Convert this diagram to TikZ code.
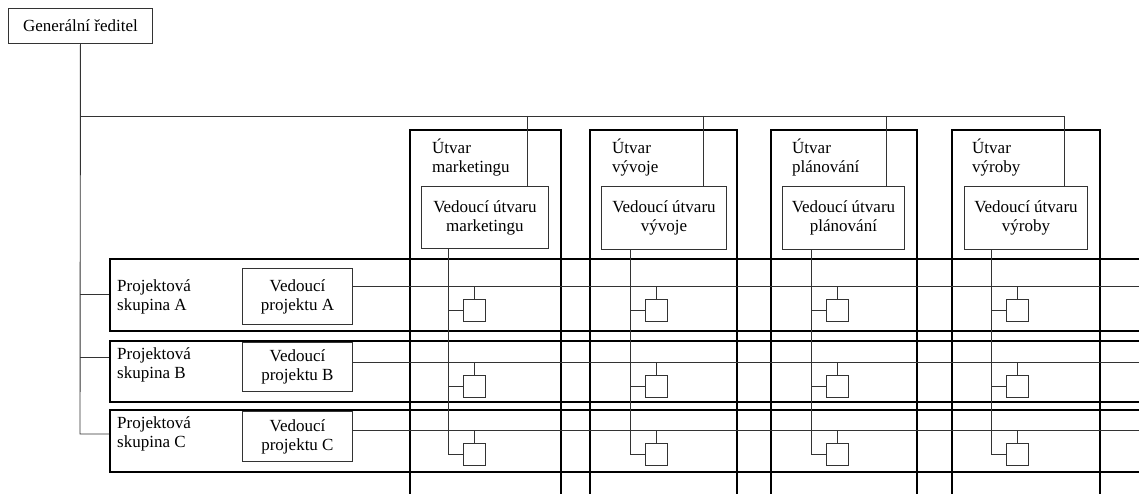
\documentclass[tikz,border=0pt]{standalone}
\usepackage{fontspec}
\setmainfont{Liberation Serif}
\begin{document}
\begin{tikzpicture}[x=1pt,y=-1pt,
  lnthin/.style={line width=0.9pt, draw=black!80},
  lnthick/.style={line width=2pt, draw=black},
  txt/.style={font=\fontsize{17}{19}\selectfont},
  box/.style={lnthin, rectangle, inner sep=0pt, txt, align=center, anchor=north west},
  bigbox/.style={lnthick, rectangle, inner sep=0pt, anchor=north west},
  label/.style={inner sep=0pt, txt, align=left, anchor=north west},
  sq/.style={lnthin, rectangle, inner sep=0pt, minimum width=22, minimum height=22}]
\useasboundingbox (0,0) rectangle (1139,494);
\clip (0,0) rectangle (1139,494);

% general director
\node[box, minimum width=144, minimum height=35] (gr) at (8,8) {Generální ředitel};

% department columns (thick, open at bottom)
\node[bigbox, minimum width=151, minimum height=420] (c1) at (409,129) {};
\node[bigbox, minimum width=147, minimum height=420] (c2) at (589,129) {};
\node[bigbox, minimum width=146, minimum height=420] (c3) at (770,129) {};
\node[bigbox, minimum width=148, minimum height=420] (c4) at (951,129) {};

% project rows (thick, open at right)
\node[bigbox, minimum width=1100, minimum height=72] (r1) at (109,258) {};
\node[bigbox, minimum width=1100, minimum height=61] (r2) at (109,340) {};
\node[bigbox, minimum width=1100, minimum height=62] (r3) at (109,409) {};

% column labels
\node[label] (l1) at (432,139) {Útvar\\marketingu};
\node[label] (l2) at (612,139) {Útvar\\vývoje};
\node[label] (l3) at (792,139) {Útvar\\plánování};
\node[label] (l4) at (972,139) {Útvar\\výroby};

% row labels
\node[label] (p1) at (117,279) {Projektová\\skupina A};
\node[label] (p2) at (117,347) {Projektová\\skupina B};
\node[label] (p3) at (117,416) {Projektová\\skupina C};

% department leaders
\node[box, minimum width=127, minimum height=62] (v1) at (421,186) {Vedoucí útvaru\\marketingu};
\node[box, minimum width=125, minimum height=63] (v2) at (601,186) {Vedoucí útvaru\\vývoje};
\node[box, minimum width=122, minimum height=63] (v3) at (782,186) {Vedoucí útvaru\\plánování};
\node[box, minimum width=123, minimum height=63] (v4) at (964,186) {Vedoucí útvaru\\výroby};

% project leaders
\node[box, minimum width=110, minimum height=56] (q1) at (242,268) {Vedoucí\\projektu A};
\node[box, minimum width=110, minimum height=49] (q2) at (242,342) {Vedoucí\\projektu B};
\node[box, minimum width=110, minimum height=50] (q3) at (242,411) {Vedoucí\\projektu C};

% coordinates
\coordinate (top) at (80,116);
\coordinate (bus) at (1064,116);
\coordinate (s1) at (80,294);
\coordinate (s2) at (80,357);
\coordinate (s3) at (80,434);
\coordinate (e1) at (1139,286);
\coordinate (e2) at (1139,362);
\coordinate (e3) at (1139,430);

% trunk and bus
\draw[lnthin] (gr.south) -- (s3) -- (s3 -| r3.west);
\draw[lnthin] (s1) -- (s1 -| r1.west);
\draw[lnthin] (s2) -- (s2 -| r2.west);
\draw[lnthin] (top) -- (bus) -- (bus |- v4.north);
\draw[lnthin] (527,116) -- (527,186);
\draw[lnthin] (703,116) -- (703,186);
\draw[lnthin] (886,116) -- (886,186);

% project lines
\draw[lnthin] (q1.east |- e1) -- (e1);
\draw[lnthin] (q2.east |- e2) -- (e2);
\draw[lnthin] (q3.east |- e3) -- (e3);

% matrix cells
\foreach \c/\vx in {1/448, 2/630, 3/811, 4/991} {
  \foreach \r/\ry in {1/286, 2/362, 3/430} {
    \node[sq] (m\c\r) at (\vx+26, \ry+24) {};
    \draw[lnthin] (m\c\r.north) -- (m\c\r.north |- 0,\ry);
    \draw[lnthin] (\vx, \ry+24) -- (m\c\r.west);
  }
}
\draw[lnthin] (v1.south -| 448,0) -- (448,454);
\draw[lnthin] (v2.south -| 630,0) -- (630,454);
\draw[lnthin] (v3.south -| 811,0) -- (811,454);
\draw[lnthin] (v4.south -| 991,0) -- (991,454);
\end{tikzpicture}
\end{document}
